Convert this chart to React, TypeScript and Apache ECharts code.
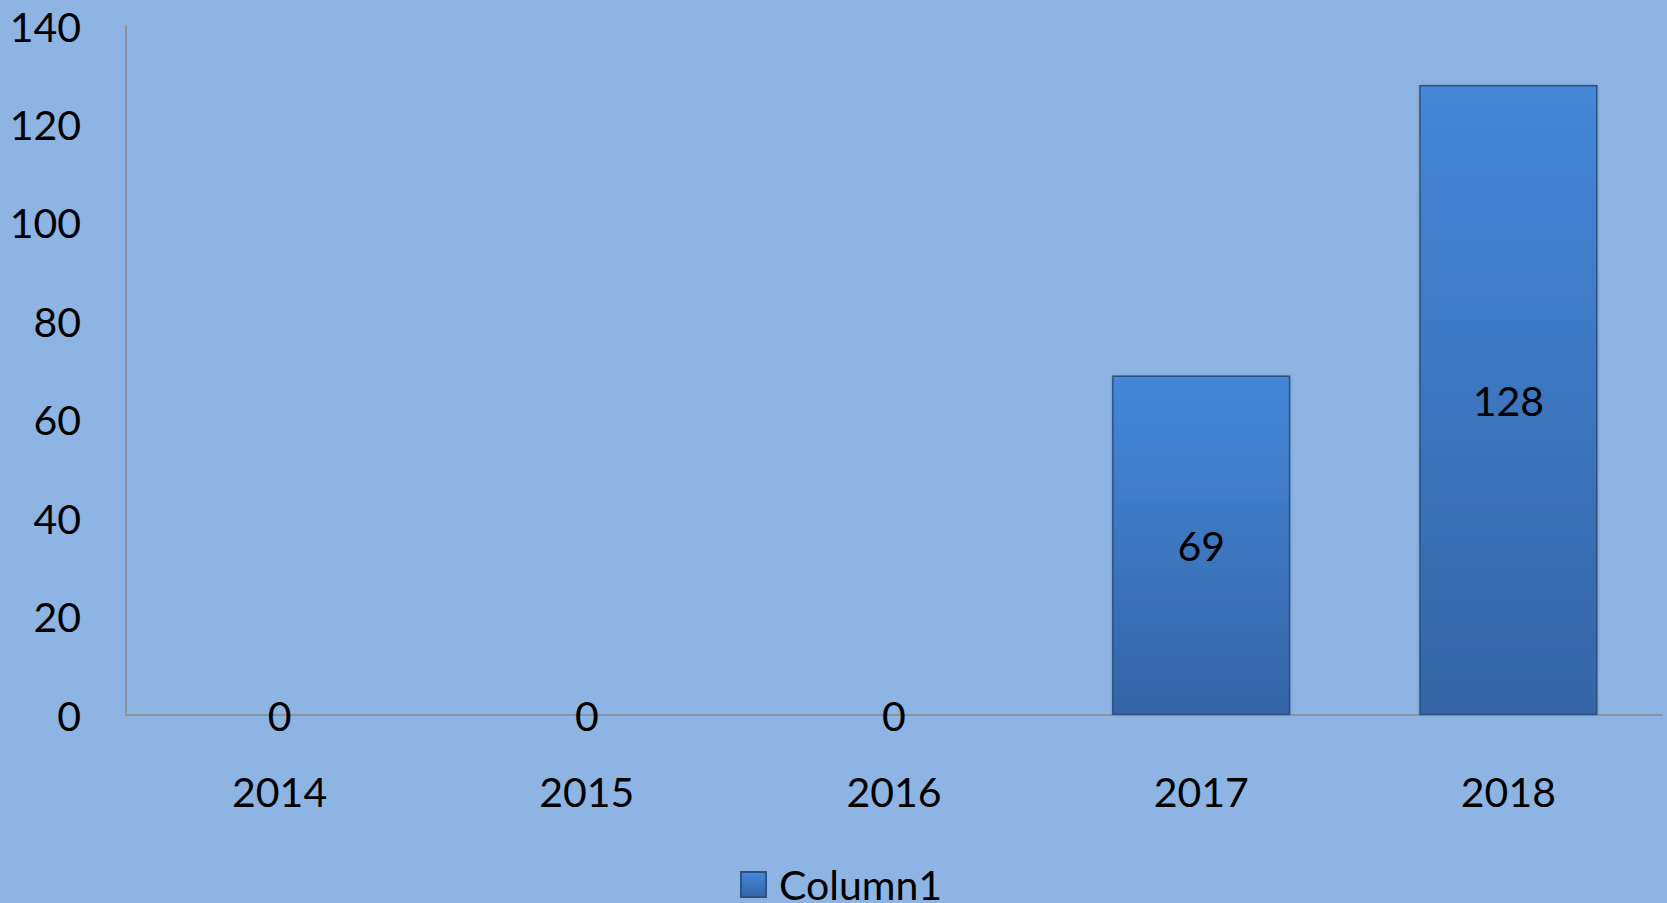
import React, { useEffect, useRef } from "react";
import * as echarts from "echarts";

const categories = ["2014", "2015", "2016", "2017", "2018"];
const seriesName = "Column1";
const values = [0, 0, 0, 69, 128];
const yMin = 0;
const yMax = 140;
const yInterval = 20;

export default function App() {
  const ref = useRef<HTMLDivElement>(null);
  useEffect(() => {
    document.body.style.margin = "0";
    document.body.style.background = "#8EB4E3";
    const chart = echarts.init(ref.current!, null, { renderer: "svg" });
    const font = "Lato, 'Open Sans', sans-serif";
    chart.setOption({
      animation: false,
      backgroundColor: "#8EB4E3",
      textStyle: { fontFamily: font, color: "#000" },
      grid: { left: 126, right: 5, top: 26, bottom: 188 },
      legend: {
        data: [seriesName],
        left: 735,
        top: 859,
        icon: "rect",
        itemWidth: 25,
        itemHeight: 25,
        itemGap: 10,
        textStyle: { fontSize: 41, lineHeight: 40, color: "#000", fontFamily: font, padding: [0, 0, 0, 8] },
      },
      xAxis: {
        type: "category",
        data: categories,
        axisLine: { show: true, lineStyle: { color: "#8a8a8a", width: 1.5 } },
        axisTick: { show: false },
        axisLabel: { fontSize: 41, lineHeight: 40, margin: 56, color: "#000", fontFamily: font },
        splitLine: { show: false },
      },
      yAxis: {
        type: "value",
        min: yMin,
        max: yMax,
        interval: yInterval,
        axisLine: { show: true, lineStyle: { color: "#8a8a8a", width: 1.5 } },
        axisTick: { show: false },
        splitLine: { show: false },
        axisLabel: { fontSize: 41, margin: 45, color: "#000", fontFamily: font },
      },
      series: [
        {
          name: seriesName,
          type: "bar",
          data: values,
          barWidth: "58%",
          itemStyle: {
            color: new echarts.graphic.LinearGradient(0, 0, 0, 1, [
              { offset: 0, color: "#4487D8" },
              { offset: 1, color: "#3565A7" },
            ]),
            borderColor: "#2B5282",
            borderWidth: 1.5,
            shadowColor: "rgba(0,0,0,0.25)",
            shadowBlur: 3,
          },
          label: {
            show: true,
            position: "inside",
            fontSize: 41,
            color: "#000",
            fontFamily: font,
          },
        },
      ],
    });
    return () => chart.dispose();
  }, []);
  return <div ref={ref} style={{ width: 1667, height: 903 }} />;
}
